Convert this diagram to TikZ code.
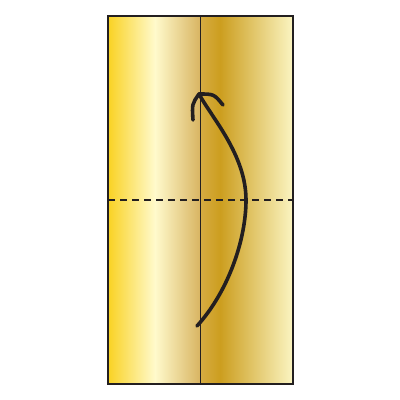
\documentclass[tikz,border=0pt]{standalone}
\usetikzlibrary{calc}
\definecolor{gA}{HTML}{F9D223}
\definecolor{gB}{HTML}{FFFACC}
\definecolor{gC}{HTML}{D8B461}
\definecolor{gD}{HTML}{D6AC42}
\definecolor{gE}{HTML}{CC9E1F}
\definecolor{gF}{HTML}{FBF5C2}
\definecolor{ink}{HTML}{231F20}
\tikzset{
  edge/.style={draw=ink, line width=1.4pt},
  foldline/.style={draw=ink, line width=1.2pt, dash pattern=on 7pt off 5pt},
  arrowline/.style={draw=ink, line width=3.6pt, line cap=round, line join=round},
}
\begin{document}
\begin{tikzpicture}[x=1pt,y=-1pt]
\useasboundingbox (0,0) rectangle (400,400);
\coordinate (tl) at (108,16);
\coordinate (br) at (293,384);
\coordinate (mt) at (200.5,16);
\coordinate (mb) at (200.5,384);
\coordinate (dl) at (108,200);
\coordinate (dr) at (293,200);
% gradients
\shade[left color=gA, right color=gB] (108,16) rectangle (155,384);
\shade[left color=gB, right color=gC] (155,16) rectangle (200.5,384);
\shade[left color=gD, right color=gE] (200.5,16) rectangle (220,384);
\shade[left color=gE, right color=gF] (220,16) rectangle (293,384);
% fold line
\draw[foldline] (dl) -- (dr);
% center crease
\draw[edge] (mt) -- (mb);
% frame
\draw[edge] (tl) rectangle (br);
% arrow
\coordinate (as) at (197,326);
\coordinate (am) at (246,200);
\coordinate (ae) at (199,94);
\draw[arrowline] (as) .. controls (228,292) and (246,240) .. (am)
  .. controls (246,155) and (212,118) .. (ae);
\draw[arrowline] (193,120) .. controls (192,104) .. (ae) .. controls (214,94) .. (223,105);
\end{tikzpicture}
\end{document}
